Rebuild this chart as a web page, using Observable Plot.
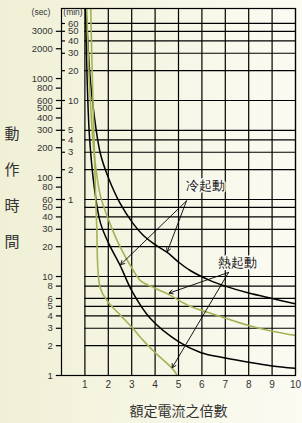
<!DOCTYPE html>
<html><head><meta charset="utf-8">
<script src="https://cdn.jsdelivr.net/npm/d3@7"></script>
<script src="https://cdn.jsdelivr.net/npm/@observablehq/plot@0.6"></script>
<style>
html,body{margin:0;padding:0;}
body{width:302px;height:423px;background:linear-gradient(to right,#f0f0d6,#fbfbf3);font-family:"Liberation Sans",Arial,sans-serif;overflow:hidden;}
#chart svg{background:transparent;display:block;}
</style></head>
<body><div id="chart"></div>
<script>
// multiples of rated current
const multiples = [1,2,3,4,5,6,7,8,9,10];
// seconds tick labels (outer axis)
const secTicks = [1,2,3,4,5,6,8,10,20,30,40,50,60,80,100,200,300,400,500,600,800,1000,2000,3000];
// minute tick labels (inner axis)
const minTicks = [1,2,3,4,5,10,20,30,40,50,60];
// horizontal grid lines (seconds)
const gridSecs = [2,3,4,5,6,8,10,20,30,40,50,60,120,180,240,300,600,1200,1800,2400,3000,3600];

// curves: [multiple, seconds]
const coldUpper = [[1.04,5100],[1.1,3000],[1.2,1200],[1.4,420],[1.66,175],[2,100],[2.5,55],[3.07,34],[3.5,26],[4,21],[4.52,17.5],[5,14],[5.5,11.5],[6.36,9.1],[7,8],[8,6.8],[9,6],[10,5.3]];
const coldLower = [[1.03,5100],[1.1,900],[1.2,250],[1.4,80],[1.66,35],[2,22],[2.51,12.9],[3,7.2],[3.8,3.76],[5,2.2],[5.94,1.71],[7,1.5],[8.07,1.35],[9,1.25],[10,1.18]];
const hotUpper = [[1.08,5100],[1.15,1500],[1.25,500],[1.4,170],[1.66,66],[2,38],[2.5,20],[3.07,11.5],[3.37,9.1],[4,7.6],[4.57,6.6],[5.5,5],[6.79,3.95],[8,3.2],[9,2.8],[10,2.54]];
const hotLower = [[1.25,5100],[1.3,1500],[1.4,200],[1.5,35],[1.66,7.6],[2,5.5],[2.5,4.1],[3.07,2.95],[3.5,2.25],[4,1.7],[4.73,1.18],[4.95,1.0]];

const coldLabel = "冷起動";
const hotLabel = "熱起動";
const coldLabelPos = [6.15, 83];
const hotLabelPos = [7.52, 13.8];
const coldArrows = [[5.34,58,2.53,13.2],[5.34,58,4.52,17.8]];
const hotArrows = [[7.14,11,4.6,6.8],[7.14,11,4.73,1.2]];

const GREEN = "#a5b355";

const toPts = a => a.map(([x,y]) => ({x,y}));

const plot = Plot.plot({
  width: 302,
  height: 423,
  marginLeft: 61,
  marginRight: 7,
  marginTop: 8,
  marginBottom: 48,
  style: {background: "transparent", fontFamily: "'Liberation Sans', Arial, sans-serif", fontSize: "10px", color: "#333"},
  x: {domain: [0, 10]},
  y: {type: "log", domain: [1, 5100], axis: null},
  marks: [
    Plot.ruleY(gridSecs, {x1: 1, x2: 10, stroke: "#000", strokeWidth: 1.2}),
    Plot.ruleX(multiples, {stroke: "#000", strokeWidth: 1.2}),
    Plot.line(toPts(coldUpper), {x: "x", y: "y", stroke: "#000", strokeWidth: 1.5, curve: "catmull-rom", clip: true}),
    Plot.line(toPts(coldLower), {x: "x", y: "y", stroke: "#000", strokeWidth: 1.5, curve: "catmull-rom", clip: true}),
    Plot.line(toPts(hotUpper), {x: "x", y: "y", stroke: GREEN, strokeWidth: 1.6, curve: "catmull-rom", clip: true}),
    Plot.line(toPts(hotLower), {x: "x", y: "y", stroke: GREEN, strokeWidth: 1.6, curve: "catmull-rom", clip: true}),
    Plot.arrow(coldArrows.concat(hotArrows), {x1: d=>d[0], y1: d=>d[1], x2: d=>d[2], y2: d=>d[3], stroke: "#000", strokeWidth: 0.9, headLength: 7}),
    Plot.text([coldLabel], {x: coldLabelPos[0], y: coldLabelPos[1], text: d=>d, fontSize: 13, fill: "#111", stroke: "#fbfbf3", strokeWidth: 3}),
    Plot.text([hotLabel], {x: hotLabelPos[0], y: hotLabelPos[1], text: d=>d, fontSize: 13, fill: "#111", stroke: "#fbfbf3", strokeWidth: 3}),
    Plot.frame({stroke: "#000", strokeWidth: 1.2}),
    // minute axis (inner ticks and labels)
    Plot.ruleY(minTicks.map(m => m*60), {x1: 0, x2: 0.17, stroke: "#000", strokeWidth: 1.2}),
    Plot.text(minTicks, {x: 0.28, y: d => d*60, text: d => String(d), textAnchor: "start", fontSize: 9.5, fill: "#333"}),
    // seconds axis (outer ticks and labels)
    Plot.ruleY(secTicks, {x1: -0.22, x2: 0, stroke: "#000", strokeWidth: 1.2}),
    Plot.text(secTicks, {x: -0.37, y: d => d, text: d => String(d), textAnchor: "end", fontSize: 9.5, fill: "#333"}),
    Plot.axisX(multiples, {anchor: "bottom", tickSize: 0, tickPadding: 5, tickFormat: d => String(d), label: "額定電流之倍數", labelAnchor: "center", labelArrow: "none", labelOffset: 40, fontSize: 10})
  ]
});
document.getElementById("chart").appendChild(plot);

// unit captions and vertical axis title
const svg = d3.select(plot);
svg.append("text").attr("x", 41).attr("y", 15).attr("text-anchor", "middle").attr("font-size", 8.5).attr("fill", "#333").text("(sec)");
svg.append("text").attr("x", 73).attr("y", 15).attr("text-anchor", "middle").attr("font-size", 8.5).attr("fill", "#333").text("(min)");
const vt = ["動","作","時","間"];
svg.selectAll("text.vt").data(vt).join("text").attr("class","vt")
  .attr("x", 12).attr("y", (d,i) => 139 + i*36).attr("text-anchor","middle")
  .attr("font-size", 15).attr("fill", "#333").attr("font-family","'Noto Sans CJK TC',sans-serif").text(d=>d);
svg.selectAll("g[aria-label='x-axis label'] text").attr("font-size", 14).attr("fill","#333").attr("font-family","'Noto Sans CJK TC',sans-serif");
</script>
</body></html>
